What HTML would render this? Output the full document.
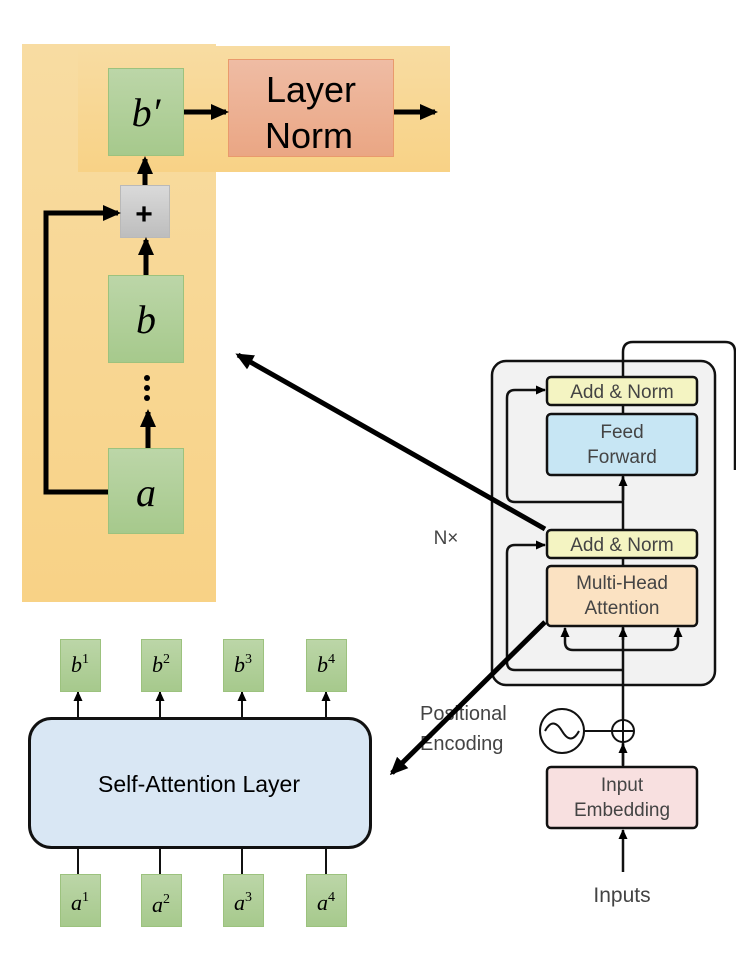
<!DOCTYPE html>
<html><head><meta charset="utf-8"><style>
html,body{margin:0;padding:0;background:#fff;}
svg{display:block;}
</style></head><body>
<svg width="736" height="974" viewBox="0 0 736 974" xmlns="http://www.w3.org/2000/svg">
<defs>
<linearGradient id="og" x1="0" y1="0" x2="0" y2="1"><stop offset="0" stop-color="#f8dca2"/><stop offset="1" stop-color="#f8d286"/></linearGradient>
<linearGradient id="gg" x1="0" y1="0" x2="0" y2="1"><stop offset="0" stop-color="#bcd6a8"/><stop offset="1" stop-color="#a6c98c"/></linearGradient>
<linearGradient id="rg" x1="0" y1="0" x2="0" y2="1"><stop offset="0" stop-color="#efbca4"/><stop offset="1" stop-color="#eaa684"/></linearGradient>
<linearGradient id="pg" x1="0" y1="0" x2="0" y2="1"><stop offset="0" stop-color="#dadada"/><stop offset="1" stop-color="#bdbdbd"/></linearGradient>
<marker id="as" markerWidth="18" markerHeight="18" refX="15" refY="9" orient="auto" markerUnits="userSpaceOnUse"><path d="M0,1 L18,9 L0,17 z" fill="#000"/></marker>
<marker id="at" markerWidth="10" markerHeight="10" refX="9" refY="5" orient="auto" markerUnits="userSpaceOnUse"><path d="M0,0.5 L10,5 L0,9.5 z" fill="#000"/></marker>
</defs>

<rect x="22" y="44" width="194" height="558" fill="url(#og)"/>
<rect x="78" y="46" width="372" height="126" fill="url(#og)"/>

<rect x="108.5" y="68.5" width="75" height="87" fill="url(#gg)" stroke="#9cc27e"/>
<text x="146" y="126" font-family="Liberation Serif, serif" font-style="italic" font-size="40" text-anchor="middle">b′</text>
<rect x="228.5" y="59.5" width="165" height="97" fill="url(#rg)" stroke="#e99a6c"/>
<text x="311" y="102" font-family="Liberation Sans, sans-serif" font-size="36" text-anchor="middle">Layer</text>
<text x="309" y="148" font-family="Liberation Sans, sans-serif" font-size="36" text-anchor="middle">Norm</text>
<rect x="120.5" y="185.5" width="49" height="52" fill="url(#pg)" stroke="#b9b9b9"/>
<text x="144" y="224" font-family="Liberation Sans, sans-serif" font-size="30" font-weight="bold" text-anchor="middle">+</text>
<rect x="108.5" y="275.5" width="75" height="87" fill="url(#gg)" stroke="#9cc27e"/>
<text x="146" y="333" font-family="Liberation Serif, serif" font-style="italic" font-size="40" text-anchor="middle">b</text>
<rect x="108.5" y="448.5" width="75" height="85" fill="url(#gg)" stroke="#9cc27e"/>
<text x="146" y="506" font-family="Liberation Serif, serif" font-style="italic" font-size="40" text-anchor="middle">a</text>
<circle cx="147" cy="378" r="3" fill="#000"/><circle cx="147" cy="388" r="3" fill="#000"/><circle cx="147" cy="398" r="3" fill="#000"/>

<g stroke="#000" stroke-width="5" fill="none">
<line x1="184" y1="112" x2="226" y2="112" marker-end="url(#as)"/>
<line x1="394" y1="112" x2="435" y2="112" marker-end="url(#as)"/>
<line x1="145" y1="185" x2="145" y2="159" marker-end="url(#as)"/>
<line x1="146" y1="275" x2="146" y2="240" marker-end="url(#as)"/>
<line x1="148" y1="448" x2="148" y2="412" marker-end="url(#as)"/>
<polyline points="108,492 46,492 46,213 118,213" marker-end="url(#as)"/>
</g>

<!-- transformer -->
<rect x="492" y="361" width="223" height="324" rx="14" fill="#f2f2f2" stroke="#111" stroke-width="2.5"/>
<g stroke="#111" stroke-width="2.5" fill="none">
<path d="M623,767 L623,378"/>
<path d="M623,377 L623,352 Q623,342 633,342 L725,342 Q735,342 735,352 L735,470"/>
<path d="M623,502 L515,502 Q507,502 507,494 L507,398 Q507,390 515,390 L545,390" marker-end="url(#at)"/>
<path d="M623,670 L515,670 Q507,670 507,662 L507,553 Q507,545 515,545 L545,545" marker-end="url(#at)"/>
<path d="M623,650 L573,650 Q565,650 565,642 L565,628" marker-end="url(#at)"/>
<path d="M623,650 L670,650 Q678,650 678,642 L678,628" marker-end="url(#at)"/>
<path d="M623,640 L623,628" marker-end="url(#at)"/>
<path d="M623,500 L623,477" marker-end="url(#at)"/>
<line x1="623" y1="872" x2="623" y2="830" marker-end="url(#at)"/>
<line x1="623" y1="765" x2="623" y2="744" marker-end="url(#at)"/>
</g>
<rect x="547" y="377" width="150" height="28" rx="4" fill="#f4f4c2" stroke="#111" stroke-width="2.5"/>
<rect x="547" y="414" width="150" height="61" rx="4" fill="#c7e6f4" stroke="#111" stroke-width="2.5"/>
<rect x="547" y="530" width="150" height="28" rx="4" fill="#f4f4c2" stroke="#111" stroke-width="2.5"/>
<rect x="547" y="566" width="150" height="60" rx="4" fill="#fbe2c2" stroke="#111" stroke-width="2.5"/>
<rect x="547" y="767" width="150" height="61" rx="4" fill="#f8e0e0" stroke="#111" stroke-width="2.5"/>
<g font-family="Liberation Sans, sans-serif" font-size="19" fill="#444" text-anchor="middle">
<text x="622" y="398">Add &amp; Norm</text>
<text x="622" y="438">Feed</text>
<text x="622" y="463">Forward</text>
<text x="622" y="551">Add &amp; Norm</text>
<text x="622" y="589">Multi-Head</text>
<text x="622" y="614">Attention</text>
<text x="622" y="791">Input</text>
<text x="622" y="816">Embedding</text>
<text x="622" y="902" font-size="21">Inputs</text>
<text x="446" y="544" font-size="19">N×</text>
<text x="420" y="720" font-size="20" text-anchor="start">Positional</text>
<text x="420" y="750" font-size="20" text-anchor="start">Encoding</text>
</g>
<g stroke="#111" stroke-width="2" fill="none">
<ellipse cx="562" cy="731" rx="22" ry="22" fill="#fff"/>
<path d="M545,731 Q553,716 562,731 Q571,746 579,731"/>
<line x1="584" y1="731" x2="612" y2="731"/>
<circle cx="623" cy="731" r="11" fill="#fff"/>
<line x1="612" y1="731" x2="634" y2="731"/>
<line x1="623" y1="720" x2="623" y2="742"/>
</g>

<!-- big arrows on top -->
<g stroke="#000" stroke-width="5" fill="none">
<line x1="545" y1="529" x2="238" y2="355" marker-end="url(#as)"/>
<line x1="545" y1="622" x2="392" y2="773" marker-end="url(#as)"/>
</g>

<!-- self attention -->
<rect x="29.5" y="718.5" width="341" height="129" rx="22" fill="#d9e7f4" stroke="#111" stroke-width="3"/>
<text x="199" y="792" font-family="Liberation Sans, sans-serif" font-size="23" text-anchor="middle">Self-Attention Layer</text>
<g stroke="#111" stroke-width="2" fill="none">
<line x1="78" y1="718" x2="78" y2="692" marker-end="url(#at)"/>
<line x1="160" y1="718" x2="160" y2="692" marker-end="url(#at)"/>
<line x1="242" y1="718" x2="242" y2="692" marker-end="url(#at)"/>
<line x1="326" y1="718" x2="326" y2="692" marker-end="url(#at)"/>
<line x1="78" y1="848" x2="78" y2="874"/>
<line x1="160" y1="848" x2="160" y2="874"/>
<line x1="242" y1="848" x2="242" y2="874"/>
<line x1="326" y1="848" x2="326" y2="874"/>
</g>
<g fill="url(#gg)" stroke="#9cc27e">
<rect x="60.5" y="639.5" width="40" height="52"/><rect x="141.5" y="639.5" width="40" height="52"/>
<rect x="223.5" y="639.5" width="40" height="52"/><rect x="306.5" y="639.5" width="40" height="52"/>
<rect x="60.5" y="874.5" width="40" height="52"/><rect x="141.5" y="874.5" width="40" height="52"/>
<rect x="223.5" y="874.5" width="40" height="52"/><rect x="306.5" y="874.5" width="40" height="52"/>
</g>
<g font-family="Liberation Serif, serif" font-size="22" text-anchor="middle">
<text x="80" y="672"><tspan font-style="italic">b</tspan><tspan font-size="14" dy="-9">1</tspan></text>
<text x="161" y="672"><tspan font-style="italic">b</tspan><tspan font-size="14" dy="-9">2</tspan></text>
<text x="243" y="672"><tspan font-style="italic">b</tspan><tspan font-size="14" dy="-9">3</tspan></text>
<text x="326" y="672"><tspan font-style="italic">b</tspan><tspan font-size="14" dy="-9">4</tspan></text>
<text x="80" y="910"><tspan font-style="italic">a</tspan><tspan font-size="14" dy="-9">1</tspan></text>
<text x="161" y="912"><tspan font-style="italic">a</tspan><tspan font-size="14" dy="-9">2</tspan></text>
<text x="243" y="910"><tspan font-style="italic">a</tspan><tspan font-size="14" dy="-9">3</tspan></text>
<text x="326" y="910"><tspan font-style="italic">a</tspan><tspan font-size="14" dy="-9">4</tspan></text>
</g>
</svg>
</body></html>
